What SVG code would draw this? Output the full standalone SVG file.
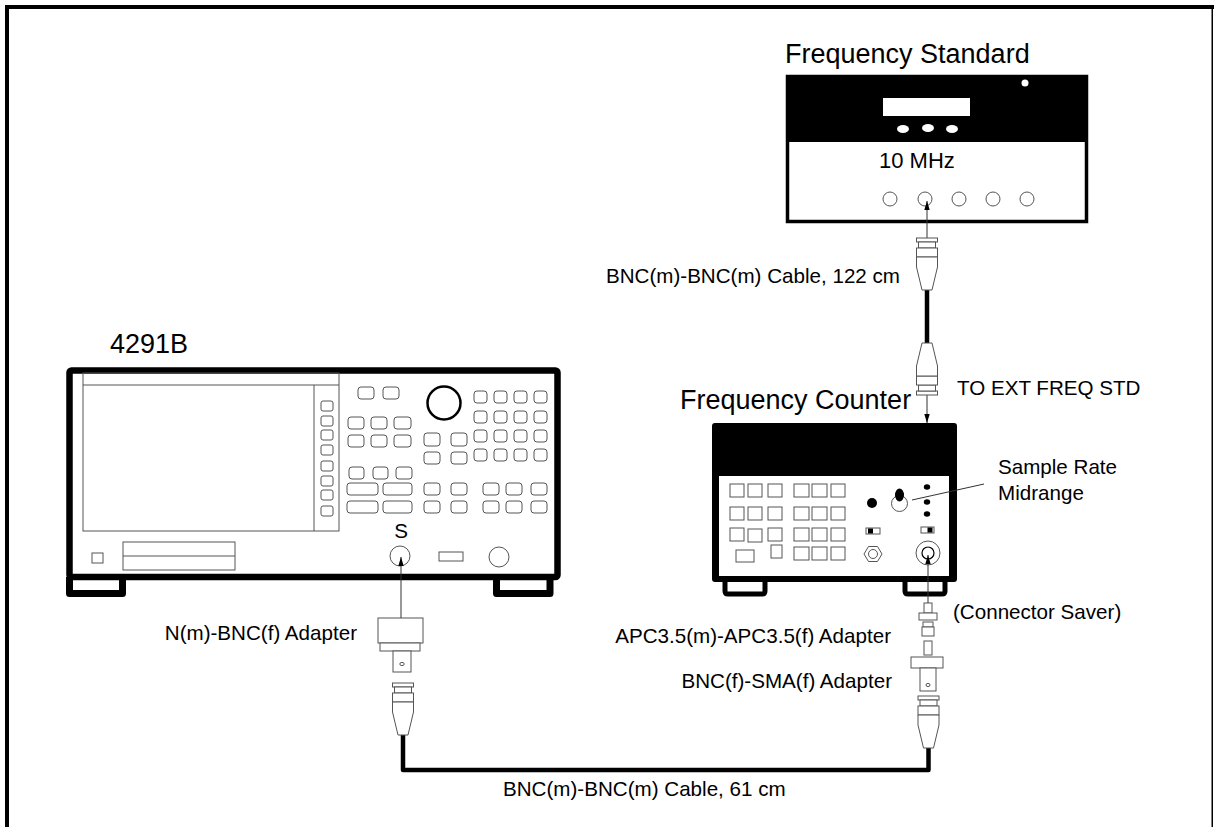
<svg xmlns="http://www.w3.org/2000/svg" width="1214" height="827" viewBox="0 0 1214 827">
<style>
text{font-family:"Liberation Sans",Arial,sans-serif;fill:#000}
.title{font-size:27px}
.lbl{font-size:20.6px}
.k{fill:#fff;stroke:#555;stroke-width:1}
.g{fill:none;stroke:#555;stroke-width:1}
.gw{fill:#fff;stroke:#555;stroke-width:1}
.cable{fill:none;stroke:#000;stroke-width:4.5;stroke-linejoin:round}
.thin{fill:none;stroke:#333;stroke-width:1}
</style>
<defs>
<marker id="ah" viewBox="0 0 10 10" refX="10" refY="5" markerWidth="9" markerHeight="9" orient="auto" markerUnits="userSpaceOnUse">
<path d="M0,2 L10,5 L0,8 z" fill="#000"/>
</marker>
<g id="plug">
<rect x="-10.5" y="0" width="21" height="4" class="gw"/>
<rect x="-8.5" y="4" width="17" height="6" class="gw"/>
<rect x="-10.5" y="10" width="21" height="9" class="gw"/>
<path d="M-10.5,19 V29 L-5,52 H5 L10.5,29 V19 Z" class="gw"/>
</g>
</defs>

<g id="frame">
<rect x="5" y="5" width="1209" height="4" fill="#000"/>
<rect x="5" y="5" width="4" height="822" fill="#000"/>
<rect x="1211.5" y="5" width="1.5" height="822" fill="#000"/>
</g>

<g id="frequency-standard">
<text class="title" x="785" y="63">Frequency Standard</text>
<rect x="787.5" y="76.5" width="299" height="145" fill="#fff" stroke="#000" stroke-width="3.5"/>
<rect x="786" y="75" width="302" height="67" fill="#000"/>
<rect x="883" y="98" width="87" height="18" fill="#fff"/>
<ellipse cx="903" cy="129" rx="6" ry="4" fill="#fff"/>
<ellipse cx="928" cy="128" rx="6" ry="4" fill="#fff"/>
<ellipse cx="952" cy="129" rx="6" ry="4" fill="#fff"/>
<circle cx="1025" cy="83" r="3.5" fill="#fff"/>
<text x="879" y="168" style="font-size:22px">10 MHz</text>
<circle cx="890" cy="199" r="7" class="g"/>
<circle cx="925" cy="199" r="7" class="g"/>
<circle cx="959" cy="199" r="7" class="g"/>
<circle cx="993" cy="199" r="7" class="g"/>
<circle cx="1027" cy="199" r="7" class="g"/>
</g>

<g id="frequency-counter">
<text class="title" x="680" y="409">Frequency Counter</text>
<path d="M725,579 V591 Q725,594 728,594 H762 Q765,594 765,591 V579" fill="none" stroke="#000" stroke-width="5"/>
<path d="M905,579 V591 Q905,594 908,594 H942 Q945,594 945,591 V579" fill="none" stroke="#000" stroke-width="5"/>
<rect x="712" y="423" width="245" height="159" rx="3" fill="#000"/>
<rect x="719" y="476" width="230" height="100" fill="#fff"/>
<rect x="730" y="484" width="14" height="13" class="k"/>
<rect x="748" y="484" width="14" height="13" class="k"/>
<rect x="768" y="484" width="14" height="13" class="k"/>
<rect x="730" y="507" width="14" height="13" class="k"/>
<rect x="748" y="507" width="14" height="13" class="k"/>
<rect x="768" y="507" width="14" height="13" class="k"/>
<rect x="730" y="528" width="14" height="13" class="k"/>
<rect x="748" y="529" width="14" height="13" class="k"/>
<rect x="768" y="528" width="14" height="13" class="k"/>
<rect x="794" y="484" width="15" height="13" class="k"/>
<rect x="812" y="484" width="15" height="13" class="k"/>
<rect x="831" y="484" width="14" height="13" class="k"/>
<rect x="794" y="507" width="15" height="13" class="k"/>
<rect x="812" y="507" width="15" height="13" class="k"/>
<rect x="831" y="507" width="14" height="13" class="k"/>
<rect x="794" y="528" width="15" height="13" class="k"/>
<rect x="812" y="528" width="15" height="13" class="k"/>
<rect x="831" y="528" width="14" height="13" class="k"/>
<rect x="794" y="547" width="15" height="13" class="k"/>
<rect x="812" y="547" width="15" height="13" class="k"/>
<rect x="831" y="547" width="14" height="13" class="k"/>
<rect x="736" y="550" width="18" height="12" class="k"/>
<rect x="771" y="545" width="11" height="13" class="k"/>
<circle cx="872" cy="503" r="5" fill="#000"/>
<circle cx="899.5" cy="503.5" r="8" class="gw"/>
<ellipse cx="899.5" cy="495" rx="4.5" ry="6.5" fill="#000"/>
<ellipse cx="927" cy="487" rx="3.2" ry="2.8" fill="#000"/>
<ellipse cx="927" cy="502" rx="3.2" ry="2.8" fill="#000"/>
<ellipse cx="927" cy="514" rx="3.2" ry="2.8" fill="#000"/>
<rect x="866" y="528" width="14" height="6" class="gw"/>
<rect x="868" y="528.5" width="5" height="5" fill="#000"/>
<rect x="921" y="527" width="13" height="6" class="gw"/>
<rect x="927.5" y="527.5" width="5" height="5" fill="#000"/>
<path d="M864,554 L868.5,546.5 H877.5 L882,554 L877.5,561.5 H868.5 Z" class="g"/>
<circle cx="873" cy="554" r="4.5" class="g"/>
<circle cx="928" cy="553" r="12" class="g"/>
<circle cx="928" cy="553" r="6" fill="none" stroke="#000" stroke-width="1.2"/>
<line x1="912" y1="500" x2="984" y2="484" stroke="#333" stroke-width="1"/>
<text class="lbl" x="998" y="474">Sample Rate</text>
<text class="lbl" x="998" y="500">Midrange</text>
</g>

<g id="analyzer-4291b">
<text class="title" x="110" y="353">4291B</text>
<path d="M69.5,577 V593.5 H122.5 V577" fill="none" stroke="#000" stroke-width="7" stroke-linejoin="round"/>
<path d="M496.5,577 V593.5 H550 V577" fill="none" stroke="#000" stroke-width="7" stroke-linejoin="round"/>
<rect x="69.5" y="370.5" width="488" height="206.5" rx="2" fill="#fff" stroke="#000" stroke-width="6.5"/>
<rect x="83" y="373" width="256" height="158" class="g"/>
<line x1="83" y1="385" x2="339" y2="385" class="g"/>
<line x1="314" y1="385" x2="314" y2="531" class="g"/>
<rect x="321" y="401" width="12" height="10" rx="2" class="k"/>
<rect x="321" y="416" width="12" height="10" rx="2" class="k"/>
<rect x="321" y="430" width="12" height="10" rx="2" class="k"/>
<rect x="321" y="445" width="12" height="10" rx="2" class="k"/>
<rect x="321" y="461" width="12" height="10" rx="2" class="k"/>
<rect x="321" y="476" width="12" height="10" rx="2" class="k"/>
<rect x="321" y="490" width="12" height="10" rx="2" class="k"/>
<rect x="321" y="506" width="12" height="10" rx="2" class="k"/>
<rect x="92" y="553" width="11" height="10" class="k"/>
<rect x="123" y="542" width="112" height="28" class="k"/>
<line x1="123" y1="556" x2="235" y2="556" class="g"/>
<rect x="358" y="387" width="16" height="12" rx="3" class="k"/>
<rect x="383" y="387" width="16" height="12" rx="3" class="k"/>
<rect x="348" y="417" width="16" height="12" rx="3" class="k"/>
<rect x="371" y="417" width="16" height="12" rx="3" class="k"/>
<rect x="394" y="417" width="17" height="12" rx="3" class="k"/>
<rect x="348" y="435" width="16" height="12" rx="3" class="k"/>
<rect x="371" y="435" width="16" height="12" rx="3" class="k"/>
<rect x="394" y="435" width="17" height="12" rx="3" class="k"/>
<rect x="349" y="467" width="15" height="12" rx="3" class="k"/>
<rect x="373" y="467" width="15" height="12" rx="3" class="k"/>
<rect x="396" y="467" width="16" height="12" rx="3" class="k"/>
<rect x="347" y="483" width="31" height="12" rx="3" class="k"/>
<rect x="383" y="483" width="29" height="12" rx="3" class="k"/>
<rect x="347" y="501" width="31" height="12" rx="3" class="k"/>
<rect x="383" y="501" width="29" height="12" rx="3" class="k"/>
<circle cx="444" cy="403" r="16.5" fill="none" stroke="#000" stroke-width="2.5"/>
<rect x="424" y="433" width="16" height="13" rx="3" class="k"/>
<rect x="451" y="433" width="16" height="13" rx="3" class="k"/>
<rect x="424" y="452" width="16" height="12" rx="3" class="k"/>
<rect x="451" y="452" width="16" height="12" rx="3" class="k"/>
<rect x="474" y="391" width="13" height="12" rx="3" class="k"/>
<rect x="494" y="391" width="13" height="12" rx="3" class="k"/>
<rect x="514" y="391" width="13" height="12" rx="3" class="k"/>
<rect x="534" y="391" width="13" height="12" rx="3" class="k"/>
<rect x="474" y="411" width="13" height="12" rx="3" class="k"/>
<rect x="494" y="411" width="13" height="12" rx="3" class="k"/>
<rect x="514" y="411" width="13" height="12" rx="3" class="k"/>
<rect x="534" y="411" width="13" height="12" rx="3" class="k"/>
<rect x="474" y="430" width="13" height="12" rx="3" class="k"/>
<rect x="494" y="430" width="13" height="12" rx="3" class="k"/>
<rect x="514" y="430" width="13" height="12" rx="3" class="k"/>
<rect x="534" y="430" width="13" height="12" rx="3" class="k"/>
<rect x="474" y="449" width="13" height="12" rx="3" class="k"/>
<rect x="494" y="449" width="13" height="12" rx="3" class="k"/>
<rect x="514" y="449" width="13" height="12" rx="3" class="k"/>
<rect x="534" y="449" width="13" height="12" rx="3" class="k"/>
<rect x="424" y="483" width="16" height="12" rx="3" class="k"/>
<rect x="451" y="483" width="16" height="12" rx="3" class="k"/>
<rect x="424" y="501" width="16" height="12" rx="3" class="k"/>
<rect x="451" y="501" width="16" height="12" rx="3" class="k"/>
<rect x="483" y="483" width="16" height="12" rx="3" class="k"/>
<rect x="506" y="483" width="16" height="12" rx="3" class="k"/>
<rect x="531" y="483" width="16" height="12" rx="3" class="k"/>
<rect x="483" y="501" width="16" height="12" rx="3" class="k"/>
<rect x="506" y="501" width="16" height="12" rx="3" class="k"/>
<rect x="531" y="501" width="16" height="12" rx="3" class="k"/>
<text class="lbl" x="401" y="538" text-anchor="middle">S</text>
<circle cx="400" cy="556" r="10" class="g"/>
<rect x="439" y="552" width="24" height="9" class="k"/>
<circle cx="499" cy="557" r="10" class="g"/>
</g>

<g id="n-bnc-adapter">
<rect x="378" y="618" width="45" height="25" class="gw"/>
<rect x="380" y="643" width="40" height="8" class="gw"/>
<rect x="393" y="651" width="18" height="21" class="gw"/>
<ellipse cx="402" cy="664" rx="2.2" ry="1.6" class="g"/>
<text class="lbl" x="357" y="640" text-anchor="end">N(m)-BNC(f) Adapter</text>
</g>

<g id="counter-adapters">
<rect x="924" y="603" width="8" height="10" class="gw"/>
<rect x="919" y="613" width="18" height="7" class="gw"/>
<rect x="923" y="622" width="10" height="5" class="gw"/>
<rect x="922" y="627" width="12" height="9" class="gw"/>
<rect x="924" y="641" width="8" height="14" class="gw"/>
<rect x="911" y="657" width="32" height="11" class="gw"/>
<rect x="920" y="668" width="16" height="23" class="gw"/>
<ellipse cx="928" cy="685" rx="2" ry="1.6" class="g"/>
<text class="lbl" x="953" y="619">(Connector Saver)</text>
<text class="lbl" x="891" y="643" text-anchor="end">APC3.5(m)-APC3.5(f) Adapter</text>
<text class="lbl" x="892" y="688" text-anchor="end">BNC(f)-SMA(f) Adapter</text>
</g>

<g id="connectors">
<line x1="927" y1="238" x2="927" y2="201" class="thin" marker-end="url(#ah)"/>
<line x1="927" y1="395" x2="927" y2="423" class="thin" marker-end="url(#ah)"/>
<line x1="401" y1="618" x2="401" y2="557" class="thin" marker-end="url(#ah)"/>
<line x1="928" y1="603" x2="928" y2="555" class="thin" marker-end="url(#ah)"/>
<path d="M927,288 V345" class="cable"/>
<use href="#plug" transform="translate(927,238)"/>
<use href="#plug" transform="translate(927,395) scale(1,-1)"/>
<path d="M403,733 V770 H928.5 V746" class="cable"/>
<use href="#plug" transform="translate(403,683)"/>
<use href="#plug" transform="translate(928.5,696)"/>
<text class="lbl" x="900" y="283" text-anchor="end">BNC(m)-BNC(m) Cable, 122 cm</text>
<text class="lbl" x="957" y="395">TO EXT FREQ STD</text>
<text class="lbl" x="503" y="796">BNC(m)-BNC(m) Cable, 61 cm</text>
</g>
</svg>
